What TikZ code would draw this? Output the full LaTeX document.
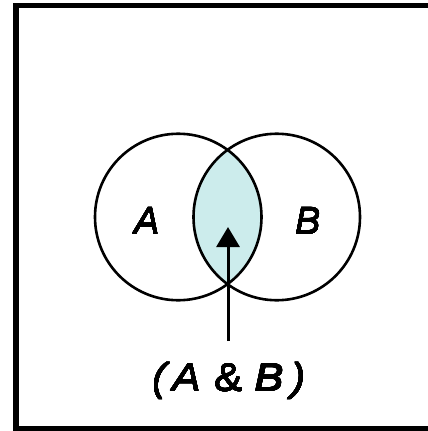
\documentclass[tikz,border=0pt]{standalone}
\usepackage{fontspec}
\setmainfont{Liberation Sans}
\usepackage[copies]{contour}
\contourlength{0.22pt}
\contournumber{16}
\usetikzlibrary{arrows.meta}
\definecolor{lens}{RGB}{204,236,236}
\newcommand{\heavytext}[1]{\contour{black}{#1}}
\tikzset{
  setcircle/.style={circle, draw=black, line width=2.6pt, minimum size=166.5pt, inner sep=0pt},
  setlabel/.style={font=\fontsize{38}{38}\selectfont\itshape, inner sep=0pt, anchor=base},
  frameline/.style={line width=5.5pt, draw=black},
  pointer/.style={line width=3pt, -{Triangle[width=23pt,length=20pt]}}
}
\begin{document}
\begin{tikzpicture}[x=1pt,y=-1pt]
\useasboundingbox (0,0) rectangle (428,431);
\fill[white] (0,0) rectangle (428,431);
% frame (right side lies beyond the picture)
\draw[frameline] (440,5.5) -- (16,5.5) -- (16,428.5) -- (440,428.5);
% lens
\begin{scope}
  \clip (178.25,217) circle (83.25pt);
  \fill[lens] (276.75,217) circle (83.25pt);
\end{scope}
\node[setcircle] (A) at (178.25,217) {};
\node[setcircle] (B) at (276.75,217) {};
\node[setlabel] (la) at (147,234) {\heavytext{A}};
\node[setlabel] (lb) at (308,234) {\heavytext{B}};
\node[font=\fontsize{39}{39}\selectfont, inner sep=0pt, anchor=base, xscale=1.1] (lab) at (229,391) {\heavytext{\textit{(}\hspace{2pt}\textit{A}\hspace{12pt}\&\hspace{11pt}\textit{B}\hspace{7pt}\textit{)}}};
\coordinate (s) at (228,341);
\coordinate (t) at (228,227);
\draw[pointer] (s) -- (t);
\end{tikzpicture}
\end{document}
